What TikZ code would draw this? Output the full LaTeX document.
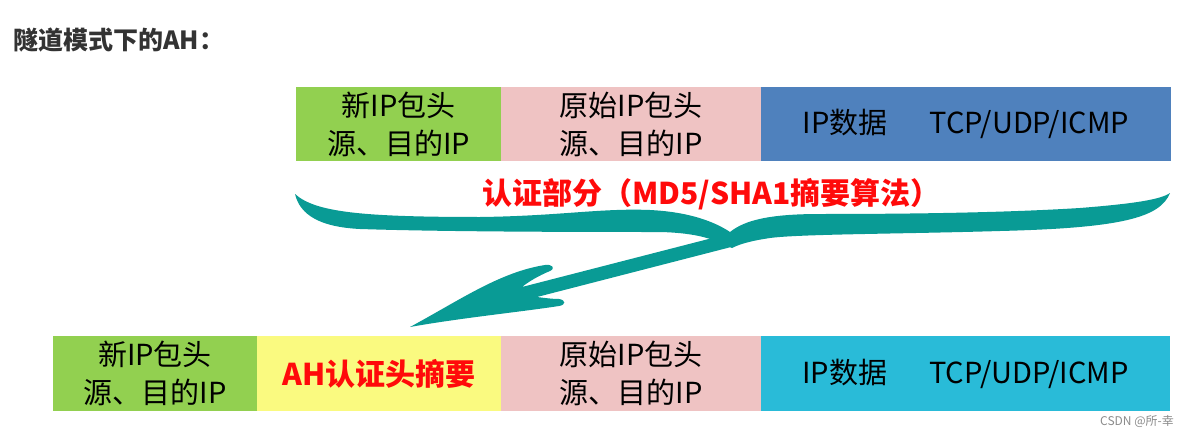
\documentclass[tikz,border=0pt]{standalone}
\usepackage{fontspec}
\setmainfont{Noto Sans CJK SC}
\definecolor{cgreen}{HTML}{92D050}
\definecolor{cpink}{HTML}{EFC3C3}
\definecolor{cblue}{HTML}{4F81BD}
\definecolor{cyellow}{HTML}{FAFA80}
\definecolor{ccyan}{HTML}{29BBD8}
\definecolor{cteal}{HTML}{099B95}
\definecolor{cred}{HTML}{FF0A0A}
\definecolor{ctitle}{HTML}{333333}
\tikzset{
  seg/.style={inner sep=0pt, outer sep=0pt, anchor=north west, align=center,
    minimum height=74pt, font=\fontsize{29}{38}\selectfont, text=black},
  redtxt/.style={text=cred, font=\fontsize{30}{36}\selectfont\bfseries, inner sep=0pt},
}
\begin{document}
\begin{tikzpicture}[x=1pt,y=-1pt]
\useasboundingbox (0,0) rectangle (1188,436);
\fill[white] (0,0) rectangle (1188,436);
% title
\node[anchor=west, inner sep=0pt, text=ctitle, font=\fontsize{25}{30}\selectfont\bfseries] (title) at (13,40) {隧道模式下的AH：};
% top row
\node[seg, fill=cgreen, minimum width=205pt] (tg) at (296,87) {新IP包头\\源、目的IP};
\node[seg, fill=cpink, minimum width=260pt] (tp) at (501,87) {原始IP包头\\源、目的IP};
\node[seg, fill=cblue, minimum width=410pt] (tb) at (761,87) {IP数据\hspace{42pt}TCP/UDP/ICMP};
% label
\node[redtxt, anchor=west] (lab) at (482,194) {认证部分（MD5/SHA1摘要算法）};
% brace
\fill[cteal] (295,194) .. controls (315,212) and (360,217) .. (480,217)
  .. controls (560,216) and (600,208) .. (650,210)
  .. controls (690,212) and (715,222) .. (730,232)
  .. controls (745,220) and (770,214) .. (820,214)
  .. controls (900,214) and (1000,213) .. (1080,208)
  .. controls (1130,204) and (1160,200) .. (1170,193)
  .. controls (1160,218) and (1120,228) .. (1000,231)
  .. controls (900,234) and (800,234) .. (770,238)
  .. controls (750,241) and (740,244) .. (732,248)
  .. controls (715,240) and (700,233) .. (660,232)
  .. controls (600,232) and (450,232) .. (360,229)
  .. controls (320,227) and (300,215) .. (295,194) -- cycle;
% arrow
\fill[cteal] (410,327) .. controls (460,300) and (500,272) .. (545,265)
  .. controls (552,264) and (556,268) .. (550,271)
  .. controls (538,276) and (528,282) .. (522,287)
  -- (728,234) -- (738,240) -- (735,246) -- (537,297)
  .. controls (545,298) and (552,299) .. (559,299)
  .. controls (566,300) and (566,305) .. (559,306)
  .. controls (520,312) and (460,318) .. (410,327) -- cycle;
% bottom row
\node[seg, fill=cgreen, minimum width=204pt, minimum height=75pt] (bg) at (53,336) {新IP包头\\源、目的IP};
\node[seg, fill=cyellow, minimum width=244pt, minimum height=75pt, text=cred, font=\fontsize{30}{36}\selectfont\bfseries] (by) at (257,336) {AH认证头摘要};
\node[seg, fill=cpink, minimum width=260pt, minimum height=75pt] (bp) at (501,336) {原始IP包头\\源、目的IP};
\node[seg, fill=ccyan, minimum width=409pt, minimum height=75pt] (bc) at (761,336) {IP数据\hspace{42pt}TCP/UDP/ICMP};
% credit
\node[anchor=east, inner sep=0pt, text=black!45, font=\fontsize{12}{14}\selectfont] (credit) at (1174,421) {CSDN @所-幸};
\end{tikzpicture}
\end{document}
